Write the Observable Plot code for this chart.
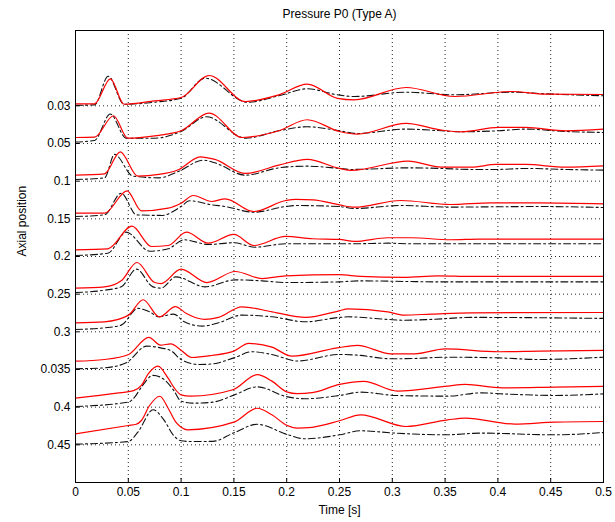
<!DOCTYPE html>
<html><head><meta charset="utf-8">
<script src="https://cdn.jsdelivr.net/npm/d3@7"></script>
<script src="https://cdn.jsdelivr.net/npm/@observablehq/plot@0.6"></script>
<style>body{margin:0;background:#fff;}</style>
</head><body><div id="chart"></div>
<script>
// ---- data ----
const title = "Pressure P0 (Type A)";
const xLabel = "Time [s]";
const yLabel = "Axial position";
const positions = [0, 0.05, 0.1, 0.15, 0.2, 0.25, 0.3, 0.35, 0.4, 0.45];
const yTickLabels = ["0.03","0.05","0.1","0.15","0.2","0.25","0.3","0.035","0.4","0.45"];
const xTicks = [0, 0.05, 0.1, 0.15, 0.2, 0.25, 0.3, 0.35, 0.4, 0.45, 0.5];
const xTickLabels = ["0","0.05","0.1","0.15","0.2","0.25","0.3","0.35","0.4","0.45","0.5"];
// pressure amplitude -> axial-axis offset
const AMP = 0.00133;

// [time, pressure amplitude] for each axial position: red = solid, black = dash-dot
const red0 = [[0,2],[0.018,2],[0.033,27],[0.046,1.6],[0.075,5],[0.1,8.3],[0.1265,30.3],[0.161,4.3],[0.1925,11],[0.2195,21.6],[0.248,7.5],[0.264,6],[0.313,18.3],[0.359,9.3],[0.413,14.3],[0.445,11.6],[0.5,11.3]];
const black0 = [[0,0.5],[0.018,1],[0.031,29.5],[0.046,1.6],[0.075,3.6],[0.1,7.6],[0.1227,27.6],[0.163,3.6],[0.1925,10],[0.2195,17],[0.248,11],[0.264,9.3],[0.313,13.6],[0.359,11],[0.413,13.6],[0.445,12],[0.5,10]];
const red1 = [[0,6],[0.018,6.3],[0.036,27.7],[0.0495,5.3],[0.075,7.7],[0.1,12.7],[0.1265,30.4],[0.158,6],[0.1925,12.7],[0.2195,23.7],[0.25,12],[0.267,9.4],[0.313,20],[0.3465,13.4],[0.3655,11.7],[0.4005,16],[0.426,16],[0.464,12.7],[0.5,14.4]];
const black1 = [[0,1.5],[0.018,3],[0.033,29.4],[0.048,5.3],[0.075,5.3],[0.1,12],[0.124,26.7],[0.161,5.3],[0.1925,12.7],[0.2195,16.7],[0.25,12.7],[0.267,10],[0.313,14.4],[0.3465,12.7],[0.3655,11.7],[0.4005,12.7],[0.426,14.4],[0.464,12],[0.5,11]];
const red2 = [[0,6],[0.0275,7.3],[0.0424,29.3],[0.059,5],[0.079,6.7],[0.098,11.7],[0.118,24.3],[0.132,21.7],[0.161,7.7],[0.1925,16],[0.2195,21.7],[0.25,12.7],[0.261,10.7],[0.315,20],[0.3465,14],[0.375,14],[0.398,16.7],[0.426,16.7],[0.464,14],[0.5,15.3]];
const black2 = [[0,1.7],[0.0275,3.3],[0.037,26.7],[0.0545,5],[0.079,3.3],[0.098,10],[0.121,21],[0.132,18.3],[0.161,6],[0.1925,13.3],[0.2195,15],[0.25,12.7],[0.261,11.7],[0.315,13.3],[0.3465,12.7],[0.375,11.7],[0.398,11.7],[0.426,12.7],[0.464,11.7],[0.5,11]];
const red3 = [[0,5.6],[0.0275,5.6],[0.0488,28],[0.0624,8],[0.0878,10.7],[0.1,15.6],[0.1116,23.3],[0.129,17.3],[0.1417,20],[0.1688,7.3],[0.199,18.3],[0.2085,19.5],[0.225,19],[0.2497,14],[0.264,11.6],[0.308,18.3],[0.355,14.3],[0.394,16],[0.439,16],[0.5,15]];
const black3 = [[0,2.3],[0.0275,4],[0.0433,25.6],[0.0577,4],[0.0815,3.4],[0.1,12.3],[0.108,18],[0.129,14],[0.1417,12.3],[0.1688,6.6],[0.199,12.3],[0.2085,13.3],[0.2497,12.3],[0.264,10.3],[0.308,13.3],[0.355,11.7],[0.394,12],[0.439,12.3],[0.5,11.3]];
const red4 = [[0,6.7],[0.0307,7.7],[0.0535,30.3],[0.0719,10],[0.0878,11],[0.105,24.3],[0.1259,13.3],[0.15,22],[0.1688,11],[0.199,20],[0.2243,17.7],[0.2497,17],[0.264,15],[0.2957,18.7],[0.318,18.7],[0.355,16.7],[0.383,17.3],[0.5,17.3]];
const black4 = [[0,1],[0.0307,3.3],[0.048,24.3],[0.0703,5.3],[0.0878,7.7],[0.103,16.7],[0.1259,12],[0.15,13.7],[0.17,9.3],[0.199,12.7],[0.2243,12.7],[0.2497,12.7],[0.264,12.7],[0.2957,13.3],[0.318,12.7],[0.355,12.7],[0.383,12.7],[0.5,12.7]];
const red5 = [[0,6],[0.0275,7.3],[0.0433,13.3],[0.0583,31.6],[0.075,11.6],[0.081,10.6],[0.1,25],[0.1243,11.6],[0.1513,22.6],[0.1767,15.6],[0.199,18.3],[0.2497,19.5],[0.27,17.7],[0.311,16.7],[0.343,18.3],[0.375,17.7],[0.5,17.7]];
const black5 = [[0,1.6],[0.0275,4],[0.0433,7.3],[0.0577,25],[0.0733,7.3],[0.081,6],[0.095,17.3],[0.1227,7.3],[0.1513,14.3],[0.1767,13.3],[0.199,11.6],[0.2497,12.3],[0.27,13.3],[0.311,12.7],[0.343,12.3],[0.375,12.3],[0.5,12.3]];
const red6 = [[0,9],[0.0275,10],[0.0503,16.7],[0.064,32],[0.0795,14.8],[0.0946,25.2],[0.105,18.3],[0.1227,12.4],[0.1354,14.4],[0.1576,25],[0.1862,20],[0.218,14.4],[0.2497,21],[0.258,23],[0.2957,20],[0.311,16.7],[0.337,17.7],[0.375,19],[0.5,19.3]];
const black6 = [[0,2.4],[0.0275,4],[0.0433,6.7],[0.0592,23.4],[0.07,20],[0.079,15],[0.093,17.7],[0.103,10],[0.12,5.7],[0.1354,9],[0.1576,16.7],[0.186,15],[0.218,10],[0.25,14.4],[0.258,15],[0.2957,12.4],[0.311,11.6],[0.337,12.4],[0.375,14.4],[0.5,13.4]];
const red7 = [[0,8.3],[0.0275,10],[0.0503,15],[0.0694,32],[0.0805,24.3],[0.0903,25.6],[0.1,19.3],[0.11,12],[0.129,14],[0.15,18.3],[0.164,26],[0.186,22.3],[0.205,13.3],[0.248,21.6],[0.2668,24],[0.299,15.6],[0.321,15.6],[0.35,20.6],[0.401,17.7],[0.439,18.3],[0.5,19]];
const black7 = [[0,0.7],[0.0275,1.7],[0.048,6.7],[0.0673,23.3],[0.0805,21.6],[0.091,18.3],[0.1,10],[0.117,5],[0.129,5.5],[0.15,11.6],[0.167,17.7],[0.186,15],[0.21,8.5],[0.25,15],[0.267,14.3],[0.299,10.7],[0.321,11],[0.35,12.3],[0.401,11.6],[0.439,10],[0.5,12.3]];
const red8 = [[0,9],[0.039,14],[0.055,16.5],[0.0624,21.7],[0.069,33.4],[0.078,41],[0.088,28.4],[0.094,18.4],[0.1,12.3],[0.109,11],[0.149,17.4],[0.172,32.4],[0.186,26],[0.2,15.3],[0.21,13.5],[0.224,14.5],[0.25,22.7],[0.273,25.7],[0.305,16],[0.3525,21],[0.369,22.7],[0.404,19.3],[0.454,20],[0.5,20.7]];
const black8 = [[0,0.7],[0.05,5],[0.056,10],[0.0624,20],[0.0735,31.7],[0.085,26.7],[0.093,16.7],[0.1,6],[0.112,4],[0.13,5],[0.15,12],[0.172,20.3],[0.2,10.5],[0.217,8.4],[0.25,11.7],[0.27,15],[0.303,11.7],[0.3525,11],[0.384,14.3],[0.404,13.3],[0.454,11.7],[0.5,13.3]];
const red9 = [[0,11],[0.05,19.3],[0.0575,20.5],[0.0624,24.3],[0.07,39],[0.0798,48.5],[0.088,36],[0.095,22.6],[0.1,17.6],[0.106,15],[0.15,22.6],[0.172,36.5],[0.186,30],[0.2,19.5],[0.21,16.7],[0.224,17.5],[0.25,24],[0.27,30],[0.313,18.3],[0.3525,25],[0.369,26.7],[0.416,20.7],[0.454,22.7],[0.5,23.3]];
const black9 = [[0,0.7],[0.05,3.3],[0.059,12.6],[0.0735,35],[0.083,26],[0.093,9.3],[0.1,4],[0.11,3.3],[0.13,3.5],[0.15,12],[0.172,20.5],[0.2,10.5],[0.217,6],[0.25,10],[0.27,14],[0.303,11.7],[0.35,10],[0.384,11.7],[0.454,10],[0.5,12.3]];

const redSeries = [red0, red1, red2, red3, red4, red5, red6, red7, red8, red9];
const blackSeries = [black0, black1, black2, black3, black4, black5, black6, black7, black8, black9];

// ---- build rows ----
function rowsOf(series) {
  const out = [];
  series.forEach((pts, k) => {
    for (const [t, a] of pts) out.push({trace: k, t, y: positions[k] - a * AMP});
  });
  return out;
}
const redRows = rowsOf(redSeries);
const blackRows = rowsOf(blackSeries);

const yFmt = d => {
  let best = 0;
  positions.forEach((p, i) => { if (Math.abs(p - d) < Math.abs(positions[best] - d)) best = i; });
  return yTickLabels[best];
};
const xFmt = d => {
  let best = 0;
  xTicks.forEach((p, i) => { if (Math.abs(p - d) < Math.abs(xTicks[best] - d)) best = i; });
  return xTickLabels[best];
};

const font = "'Liberation Sans', Arial, Helvetica, sans-serif";
const gridStyle = {stroke: "#000", strokeOpacity: 0.85, strokeWidth: 1, strokeDasharray: "1,3"};

const chart = Plot.plot({
  width: 615,
  height: 522,
  marginLeft: 75,
  marginRight: 12,
  marginTop: 30,
  marginBottom: 40,
  style: {fontFamily: font, fontSize: "12px", color: "#000", background: "#fff", overflow: "visible"},
  x: {domain: [0, 0.5]},
  y: {domain: [-0.1, 0.5], reverse: true},
  marks: [
    Plot.gridX(xTicks.slice(1, -1), gridStyle),
    Plot.gridY(positions, gridStyle),
    Plot.axisX(xTicks, {anchor: "bottom", tickFormat: xFmt, tickSize: -4, tickPadding: 9, label: null, fontSize: 12, stroke: "#000"}),
    Plot.axisY(positions, {anchor: "left", tickFormat: yFmt, tickSize: -4, tickPadding: 9, label: null, fontSize: 12, stroke: "#000"}),
    Plot.line(blackRows, {x: "t", y: "y", z: "trace", stroke: "#111", strokeWidth: 1.1, strokeDasharray: "7,3,2,3", curve: "monotone-x"}),
    Plot.line(redRows, {x: "t", y: "y", z: "trace", stroke: "#ff0000", strokeWidth: 1.2, curve: "monotone-x"}),
    Plot.frame({stroke: "#000", strokeWidth: 1}),
    Plot.text([title], {text: d => d, frameAnchor: "top", lineAnchor: "middle", dy: -16, fontSize: 12, fill: "#000"}),
    Plot.text([xLabel], {text: d => d, frameAnchor: "bottom", lineAnchor: "middle", dy: 28, fontSize: 12, fill: "#000"}),
    Plot.text([yLabel], {text: d => d, frameAnchor: "left", lineAnchor: "middle", dx: -53, rotate: -90, fontSize: 12, fill: "#000"})
  ]
});
document.getElementById("chart").appendChild(chart);
</script>
</body></html>
